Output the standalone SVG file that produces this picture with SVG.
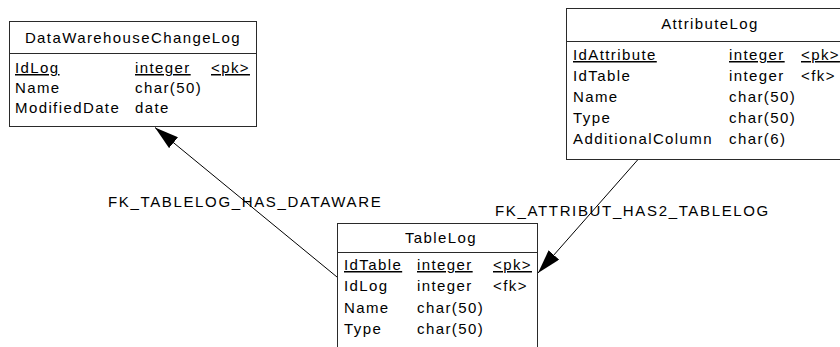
<svg xmlns="http://www.w3.org/2000/svg" width="840" height="347" viewBox="0 0 840 347">
  <style>
    text { font-family: "Liberation Sans", Arial, sans-serif; font-size: 15px; letter-spacing: 1.4px; fill: #000; }
    .title { text-anchor: middle; }
    .label { letter-spacing: 1.65px; }
    .key { text-decoration: underline; text-decoration-thickness: 2px; }
    .box { fill: #fff; stroke: #2a2a2a; stroke-width: 1; }
    .sep { stroke: #2a2a2a; stroke-width: 1; }
    .link { stroke: #000; stroke-width: 1; fill: none; marker-end: url(#head); }
  </style>
  <defs>
    <marker id="head" markerUnits="userSpaceOnUse" viewBox="0 0 24 14" refX="24" refY="7" markerWidth="24" markerHeight="14" orient="auto">
      <path d="M0,0 L24,7 L0,14 z" fill="#000"/>
    </marker>
  </defs>

  <rect width="840" height="347" fill="#fff"/>

  <!-- connectors -->
  <g id="connectors">
    <line class="link" x1="337" y1="277" x2="155" y2="127.5"/>
    <line class="link" x1="638" y1="159.5" x2="538" y2="273"/>
    <text class="label" x="108" y="207">FK_TABLELOG_HAS_DATAWARE</text>
    <text class="label" x="495" y="216">FK_ATTRIBUT_HAS2_TABLELOG</text>
  </g>

  <!-- DataWarehouseChangeLog -->
  <g id="DataWarehouseChangeLog">
    <rect class="box" x="9.5" y="21.5" width="247" height="105"/>
    <line class="sep" x1="9.5" y1="53.5" x2="256.5" y2="53.5"/>
    <text class="title" x="133" y="43">DataWarehouseChangeLog</text>
    <text class="key" x="15" y="73">IdLog</text>
    <text class="key" x="135" y="73">integer</text>
    <text class="key" x="211" y="73">&lt;pk&gt;</text>
    <text x="15" y="93">Name</text>
    <text x="135" y="93">char(50)</text>
    <text x="15" y="113">ModifiedDate</text>
    <text x="135" y="113">date</text>
  </g>

  <!-- AttributeLog -->
  <g id="AttributeLog">
    <rect class="box" x="566.5" y="8.5" width="290" height="151"/>
    <line class="sep" x1="566.5" y1="41.5" x2="856.5" y2="41.5"/>
    <text class="title" x="710" y="29">AttributeLog</text>
    <text class="key" x="573" y="60">IdAttribute</text>
    <text class="key" x="729" y="60">integer</text>
    <text class="key" x="801" y="60">&lt;pk&gt;</text>
    <text x="573" y="81">IdTable</text>
    <text x="729" y="81">integer</text>
    <text x="801" y="81">&lt;fk&gt;</text>
    <text x="573" y="102">Name</text>
    <text x="729" y="102">char(50)</text>
    <text x="573" y="123">Type</text>
    <text x="729" y="123">char(50)</text>
    <text x="573" y="144">AdditionalColumn</text>
    <text x="729" y="144">char(6)</text>
  </g>

  <!-- TableLog -->
  <g id="TableLog">
    <rect class="box" x="337.5" y="223.5" width="200" height="140"/>
    <line class="sep" x1="337.5" y1="252.5" x2="537.5" y2="252.5"/>
    <text class="title" x="441" y="243">TableLog</text>
    <text class="key" x="344" y="270">IdTable</text>
    <text class="key" x="417" y="270">integer</text>
    <text class="key" x="493" y="270">&lt;pk&gt;</text>
    <text x="344" y="291">IdLog</text>
    <text x="417" y="291">integer</text>
    <text x="493" y="291">&lt;fk&gt;</text>
    <text x="344" y="313">Name</text>
    <text x="417" y="313">char(50)</text>
    <text x="344" y="334">Type</text>
    <text x="417" y="334">char(50)</text>
  </g>
</svg>
